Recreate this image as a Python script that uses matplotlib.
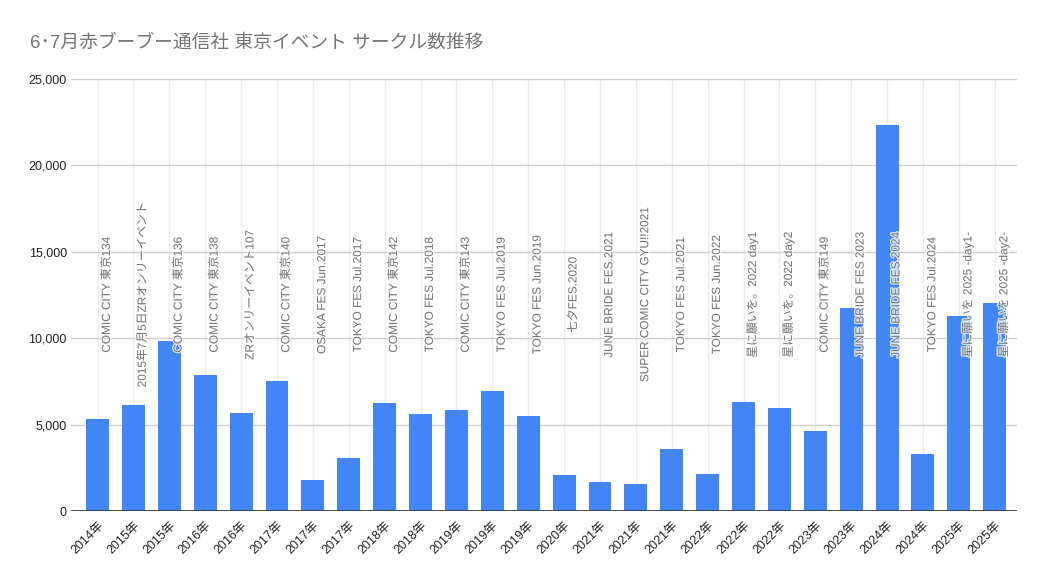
import matplotlib
matplotlib.use("Agg")
import matplotlib.pyplot as plt
import matplotlib.patheffects as pe
import numpy as np
from matplotlib.ticker import FuncFormatter, MultipleLocator

years = ["2014年", "2015年", "2015年", "2016年", "2016年", "2017年", "2017年", "2017年",
         "2018年", "2018年", "2019年", "2019年", "2019年", "2020年", "2021年", "2021年",
         "2021年", "2022年", "2022年", "2022年", "2023年", "2023年", "2024年", "2024年",
         "2025年", "2025年"]
events = ["COMIC CITY 東京134", "2015年7月5日ZRオンリーイベント", "COMIC CITY 東京136",
          "COMIC CITY 東京138", "ZRオンリーイベント107", "COMIC CITY 東京140",
          "OSAKA FES Jun.2017", "TOKYO FES Jul.2017", "COMIC CITY 東京142",
          "TOKYO FES Jul.2018", "COMIC CITY 東京143", "TOKYO FES Jul.2019",
          "TOKYO FES Jun.2019", "七夕FES.2020", "JUNE BRIDE FES.2021",
          "SUPER COMIC CITY GYU!!2021", "TOKYO FES Jul.2021", "TOKYO FES Jun.2022",
          "星に願いを。2022 day1", "星に願いを。2022 day2", "COMIC CITY 東京149",
          "JUNE BRIDE FES 2023", "JUNE BRIDE FES.2024", "TOKYO FES Jul.2024",
          "星に願いを 2025 -day1-", "星に願いを 2025 -day2-"]
circles = [5330, 6140, 9860, 7890, 5690, 7550, 1790, 3090, 6270, 5610, 5850, 6970, 5520,
           2100, 1700, 1580, 3610, 2160, 6330, 5980, 4650, 11770, 22320, 3320, 11310, 12060]
label_level = 12500

fam = ["Liberation Sans", "Noto Sans CJK JP", "DejaVu Sans"]
plt.rcParams["font.family"] = fam

fig = plt.figure(figsize=(10.47, 5.79), dpi=100)
ax = fig.add_axes([71/1047, 1-511/579, (1017-71)/1047, (511-79)/579])

x = np.arange(len(circles))
ax.bar(x, circles, width=0.64, color="#4285F4", zorder=2)

for xi, t in zip(x, events):
    ax.text(xi + 0.26, label_level, t, rotation=90, ha="center", va="center",
            fontsize=8.5, color="#757575", zorder=4,
            path_effects=[pe.withStroke(linewidth=1.8, foreground="white", alpha=0.8)])

ax.set_ylim(0, 25000)
ax.set_xlim(-0.74, len(circles) - 0.38)
ax.yaxis.set_major_locator(MultipleLocator(5000))
ax.yaxis.set_major_formatter(FuncFormatter(lambda v, p: f"{int(v):,}"))
ax.grid(axis="y", color="#cccccc", linewidth=1, zorder=0)
for xi in x:
    ax.axvline(xi, color="#ebebeb", linewidth=1, zorder=0)
ax.axhline(0, color="#333333", linewidth=1.2, zorder=3)

ax.set_xticks(x)
ax.set_xticklabels(years, rotation=45, ha="right", rotation_mode="anchor",
                   fontsize=9, color="#222222")
ax.tick_params(axis="x", length=0, pad=6)
ax.tick_params(axis="y", length=0, pad=3, labelsize=9, labelcolor="#222222")
for s in ax.spines.values():
    s.set_visible(False)

fig.text(30/1047, 1-43/579, "6･7月赤ブーブー通信社 東京イベント サークル数推移",
         fontsize=13.5, color="#757575", ha="left", va="center")

fig.savefig("out.png", dpi=100)
